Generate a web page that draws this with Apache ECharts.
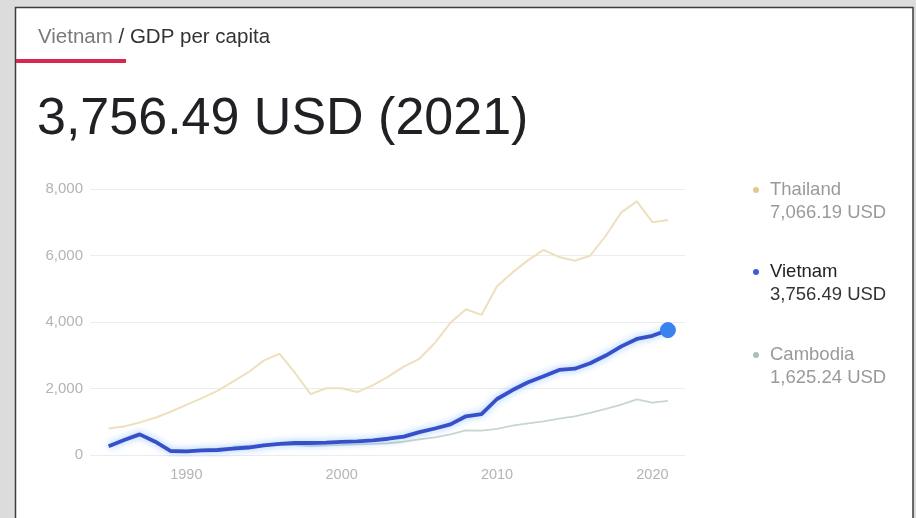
<!DOCTYPE html>
<html>
<head>
<meta charset="utf-8">
<script src="https://cdn.jsdelivr.net/npm/echarts@6/dist/echarts.min.js"></script>
<style>
  html, body { margin: 0; padding: 0; background: #dcdcdc; }
  #chart { width: 916px; height: 518px; }
</style>
</head>
<body>
<div id="chart"></div>
<script>
// ---- data ----
const years = [1985,1986,1987,1988,1989,1990,1991,1992,1993,1994,1995,1996,1997,1998,1999,2000,2001,2002,2003,2004,2005,2006,2007,2008,2009,2010,2011,2012,2013,2014,2015,2016,2017,2018,2019,2020,2021];
const thailand = [800,860,980,1120,1300,1508,1710,1927,2209,2491,2846,3044,2467,1829,2006,2008,1893,2096,2359,2659,2894,3369,3974,4385,4213,5076,5492,5861,6168,5952,5840,5994,6594,7297,7629,7001,7066.19];
const vietnam  = [260,450,620,400,120,110,140,150,190,225,288,337,361,361,371,394,410,440,489,554,687,797,919,1165,1232,1684,1953,2190,2367,2558,2595,2760,2992,3267,3491,3586,3756.49];
const cambodiaYears = [1993,1994,1995,1996,1997,1998,1999,2000,2001,2002,2003,2004,2005,2006,2007,2008,2009,2010,2011,2012,2013,2014,2015,2016,2017,2018,2019,2020,2021];
const cambodia = [253,276,320,316,299,269,293,302,317,334,354,399,469,533,622,742,735,786,882,950,1013,1094,1163,1270,1385,1512,1671,1578,1625.24];
const yTicks = [0,2000,4000,6000,8000];
const xTicks = [1990,2000,2010,2020];
const titleCountry = 'Vietnam';
const titleIndicator = 'GDP per capita';

const fmt = v => v.toLocaleString('en-US', {minimumFractionDigits: 2, maximumFractionDigits: 2});
const fmtInt = v => v.toLocaleString('en-US');
const pair = (xs, ys) => xs.map((x, i) => [x, ys[i]]);

const FONT = '"Liberation Sans", Arial, sans-serif';
const colors = { thailand: '#efe0bd', vietnam: '#3550c8', cambodia: '#c8d6cf' };
const dotColors = { thailand: '#e3c88f', vietnam: '#3b5fd6', cambodia: '#a9c1b6' };

const vnData = pair(years, vietnam).map((p, i, arr) => i === arr.length - 1
  ? { value: p, symbol: 'circle', symbolSize: 15, itemStyle: { color: '#3b82ef', borderColor: '#3b82ef' } }
  : { value: p, symbol: 'none' });

const last = a => a[a.length - 1];
const lastYear = last(years);

const legendItems = [
  { name: 'Thailand', val: last(thailand), dot: dotColors.thailand, nameColor: '#9a9a9a', valColor: '#9a9a9a', y: 190 },
  { name: 'Vietnam', val: last(vietnam), dot: dotColors.vietnam, nameColor: '#222', valColor: '#333', y: 272 },
  { name: 'Cambodia', val: last(cambodia), dot: dotColors.cambodia, nameColor: '#9a9a9a', valColor: '#9a9a9a', y: 355 }
];

const graphics = [
  { type: 'rect', z: -10, silent: true, shape: { x: 15.5, y: 7.5, width: 897.5, height: 520 },
    style: { fill: '#ffffff', stroke: '#3c3c3c', lineWidth: 1.5 } },
  { type: 'rect', silent: true, shape: { x: 16, y: 59, width: 110, height: 4 }, style: { fill: '#d8284f' } },
  { type: 'text', silent: true, left: 38, top: 27, style: {
      text: '{a|' + titleCountry + '}{b| / ' + titleIndicator + '}',
      rich: { a: { fill: '#7a7a7a', fontSize: 20.5, fontFamily: FONT }, b: { fill: '#333', fontSize: 20.5, fontFamily: FONT } } } },
  { type: 'text', silent: true, left: 37, top: 94, style: {
      text: fmt(last(vietnam)) + ' USD (' + lastYear + ')', fill: '#202124', fontSize: 52, fontFamily: FONT } }
];
legendItems.forEach(it => {
  graphics.push({ type: 'circle', silent: true, shape: { cx: 756, cy: it.y, r: 3 }, style: { fill: it.dot } });
  graphics.push({ type: 'text', silent: true, x: 770, y: it.y, style: {
    text: it.name, fill: it.nameColor, fontSize: 18.5, fontFamily: FONT, verticalAlign: 'middle' } });
  graphics.push({ type: 'text', silent: true, x: 770, y: it.y + 23, style: {
    text: fmt(it.val) + ' USD', fill: it.valColor, fontSize: 18.5, fontFamily: FONT, verticalAlign: 'middle' } });
});

const chart = echarts.init(document.getElementById('chart'));
chart.setOption({
  backgroundColor: '#dcdcdc',
  animation: false,
  textStyle: { fontFamily: FONT },
  grid: { left: 90, right: 231, top: 189, bottom: 63, containLabel: false },
  xAxis: {
    type: 'value', min: 1983.8, max: 2022.1,
    axisLine: { show: false }, axisTick: { show: false }, splitLine: { show: false },
    axisLabel: { customValues: xTicks, color: '#b4b4b4', fontSize: 14.5, margin: 12, formatter: v => String(v) }
  },
  yAxis: {
    type: 'value', min: 0, max: 8000, interval: 2000,
    axisLine: { show: false }, axisTick: { show: false },
    splitLine: { lineStyle: { color: '#ececec', width: 1 } },
    axisLabel: { color: '#b4b4b4', fontSize: 15, margin: 7, formatter: v => fmtInt(v) }
  },
  series: [
    { name: 'Thailand', type: 'line', data: pair(years, thailand), showSymbol: false,
      lineStyle: { color: colors.thailand, width: 2 }, z: 2 },
    { name: 'Cambodia', type: 'line', data: pair(cambodiaYears, cambodia), showSymbol: false,
      lineStyle: { color: colors.cambodia, width: 1.8 }, z: 3 },
    { name: 'Vietnam', type: 'line', data: vnData,
      lineStyle: { color: colors.vietnam, width: 3.8, shadowColor: 'rgba(70,150,255,0.6)', shadowBlur: 7 }, z: 4 }
  ],
  graphic: graphics
});
</script>
</body>
</html>
